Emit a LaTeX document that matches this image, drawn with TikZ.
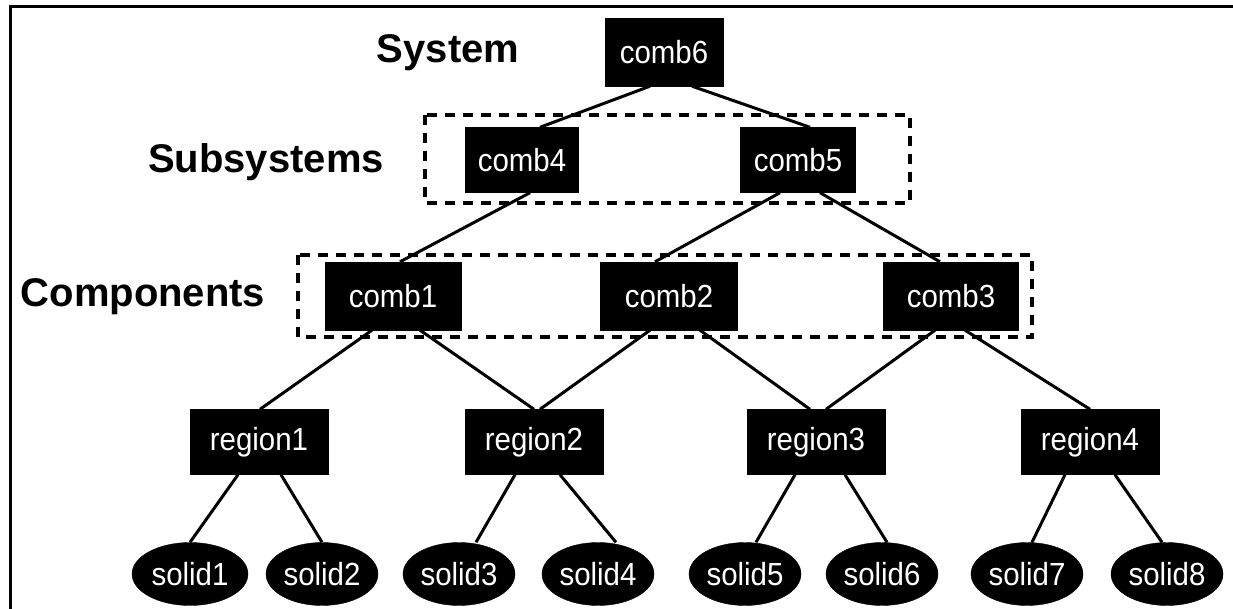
\documentclass[tikz,border=0pt]{standalone}
\usepackage{fontspec}
\setmainfont{Liberation Sans}
\newfontfamily\nodefont[FakeStretch=0.92]{Liberation Sans}
\usetikzlibrary{shapes.geometric}
\begin{document}
\begin{tikzpicture}[x=1pt,y=1pt,
  blk/.style={rectangle, fill=black, draw=black, inner sep=0pt, text=white, font=\nodefont\fontsize{32}{34}\selectfont},
  sol/.style={ellipse, fill=black, draw=black, inner sep=0pt, minimum width=112pt, minimum height=63pt, text=white, font=\nodefont\fontsize{32}{34}\selectfont},
  lvl/.style={font=\fontsize{40}{44}\selectfont\bfseries, text=black},
  edge/.style={line width=3pt},
  grp/.style={line width=4pt, dash pattern=on 10pt off 8pt},
  frame/.style={line width=3pt}]
\useasboundingbox (0,0) rectangle (1233,-609);
\draw[frame] (10,-609) -- (10,-7) -- (1233,-7);
% levels
\node[lvl] (lsys) at (448,-53) {System};
\node[lvl] (lsub) at (266,-162) {Subsystems};
\node[lvl] (lcomp) at (143,-297) {Components};
% boxes
\node[blk, minimum width=118pt, minimum height=68pt] (comb6) at (664,-52) {comb6};
\node[blk, minimum width=113pt, minimum height=65pt] (comb4) at (522,-160) {comb4};
\node[blk, minimum width=115pt, minimum height=65pt] (comb5) at (798,-160) {comb5};
\node[blk, minimum width=136pt, minimum height=68pt] (comb1) at (393,-296) {comb1};
\node[blk, minimum width=137pt, minimum height=68pt] (comb2) at (669,-296) {comb2};
\node[blk, minimum width=135pt, minimum height=68pt] (comb3) at (951,-296) {comb3};
\node[blk, minimum width=138pt, minimum height=65pt] (region1) at (259,-442) {region1};
\node[blk, minimum width=138pt, minimum height=65pt] (region2) at (534,-442) {region2};
\node[blk, minimum width=138pt, minimum height=65pt] (region3) at (816,-442) {region3};
\node[blk, minimum width=138pt, minimum height=65pt] (region4) at (1090,-442) {region4};
\node[sol, minimum width=116pt] (solid1) at (190,-574) {solid1};
\node[sol] (solid2) at (322,-574) {solid2};
\node[sol] (solid3) at (459,-574) {solid3};
\node[sol] (solid4) at (598,-574) {solid4};
\node[sol] (solid5) at (745,-574) {solid5};
\node[sol] (solid6) at (882,-574) {solid6};
\node[sol] (solid7) at (1027,-574) {solid7};
\node[sol] (solid8) at (1167,-574) {solid8};
% group boxes
\coordinate (g1a) at (425,-115); \coordinate (g1b) at (910,-203);
\coordinate (g2a) at (298,-255); \coordinate (g2b) at (1032,-337);
\draw[grp] (g1a) rectangle (g1b);
\draw[grp] (g2a) rectangle (g2b);
% edges
\draw[edge] ([xshift=-14pt]comb6.south) -- ([xshift=18pt]comb4.north);
\draw[edge] ([xshift=28pt]comb6.south) -- ([xshift=12pt]comb5.north);
\draw[edge] ([xshift=8pt]comb4.south) -- ([xshift=7pt]comb1.north);
\draw[edge] ([xshift=-18pt]comb5.south) -- ([xshift=-14pt]comb2.north);
\draw[edge] ([xshift=22pt]comb5.south) -- ([xshift=-11pt]comb3.north);
\draw[edge] ([xshift=-21pt]comb1.south) -- ([xshift=1pt]region1.north);
\draw[edge] ([xshift=27pt]comb1.south) -- ([xshift=0pt]region2.north);
\draw[edge] ([xshift=-19pt]comb2.south) -- ([xshift=6pt]region2.north);
\draw[edge] ([xshift=31pt]comb2.south) -- ([xshift=-6pt]region3.north);
\draw[edge] ([xshift=-16pt]comb3.south) -- ([xshift=10pt]region3.north);
\draw[edge] ([xshift=14pt]comb3.south) -- ([xshift=0pt]region4.north);
\draw[edge] ([xshift=-21pt]region1.south) -- (solid1.north);
\draw[edge] ([xshift=22pt]region1.south) -- (solid2.north);
\draw[edge] ([xshift=-19pt]region2.south) -- ([xshift=17pt]solid3.north);
\draw[edge] ([xshift=26pt]region2.south) -- ([xshift=18pt]solid4.north);
\draw[edge] ([xshift=-21pt]region3.south) -- ([xshift=11pt]solid5.north);
\draw[edge] ([xshift=29pt]region3.south) -- ([xshift=5pt]solid6.north);
\draw[edge] ([xshift=-25pt]region4.south) -- ([xshift=5pt]solid7.north);
\draw[edge] ([xshift=25pt]region4.south) -- ([xshift=-5pt]solid8.north);
\end{tikzpicture}
\end{document}
